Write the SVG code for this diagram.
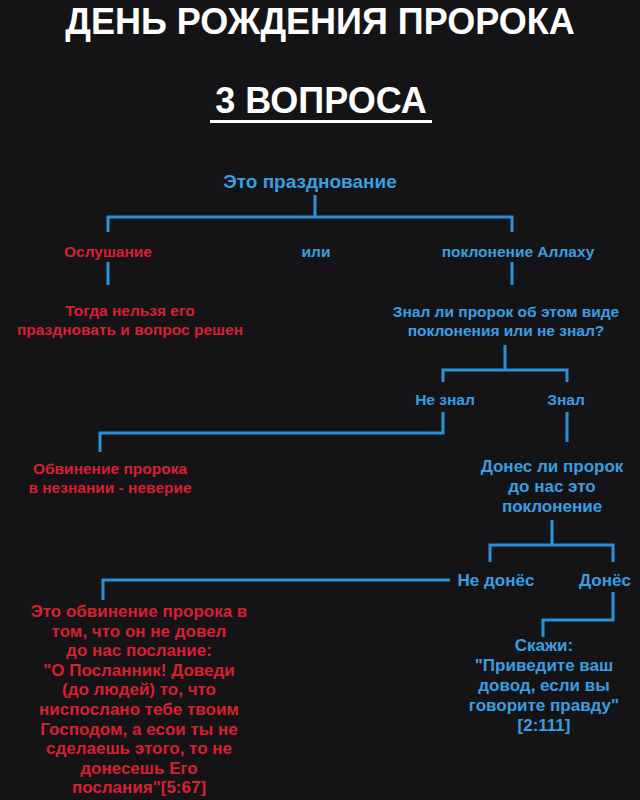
<svg xmlns="http://www.w3.org/2000/svg" width="640" height="800" viewBox="0 0 640 800">
<style>
text{font-family:"Liberation Sans",Arial,sans-serif;font-weight:bold;text-anchor:middle}
.t{fill:#fff;font-size:36px}
.b{fill:#3b9ee0;font-size:15.5px}
.r{fill:#d8202e;font-size:15.5px}
.l{font-size:17px}
.c path{stroke:#2a90d8;stroke-width:3;fill:none}
</style>
<rect width="640" height="800" fill="#141417"/>
<g id="title"><text class="t" x="320" y="34">ДЕНЬ РОЖДЕНИЯ ПРОРОКА</text>
<text class="t" x="321" y="113">3 ВОПРОСА</text>
<rect x="210" y="120" width="222" height="3" fill="#fff"/></g>
<g class="c" id="connectors">
<path d="M315 195V217M108 232V217H512V232"/>
<path d="M108 262V285M512 262V285"/>
<path d="M505 345V370M443 382V370H567V382"/>
<path d="M443 412V433H100V452M567 412V442"/>
<path d="M552 520V545M490 562V545H613V562"/>
<path d="M450 580H103V600"/>
<path d="M613 592V620H543V637"/>
</g>
<g id="n1"><text class="b" x="310" y="188" style="font-size:19px">Это празднование</text></g>
<g id="n2"><text class="r" x="108" y="257">Ослушание</text></g>
<g id="n3"><text class="b" x="316" y="257" fill="#4aa2e0">или</text></g>
<g id="n4"><text class="b" x="518" y="257">поклонение Аллаху</text></g>
<g id="n5"><text class="r" x="130" y="316">Тогда нельзя его</text><text class="r" x="130" y="335">праздновать и вопрос решен</text></g>
<g id="n6"><text class="b" x="506" y="317">Знал ли пророк об этом виде</text><text class="b" x="506" y="336">поклонения или не знал?</text></g>
<g id="n7"><text class="b" x="445" y="405">Не знал</text></g>
<g id="n8"><text class="b" x="566" y="405">Знал</text></g>
<g id="n9"><text class="r" x="110" y="474">Обвинение пророка</text><text class="r" x="110" y="493">в незнании - неверие</text></g>
<g id="n10"><text class="b l" x="552" y="472">Донес ли пророк</text><text class="b l" x="552" y="492">до нас это</text><text class="b l" x="552" y="512">поклонение</text></g>
<g id="n11"><text class="b l" x="496" y="586">Не донёс</text></g>
<g id="n12"><text class="b l" x="605" y="586">Донёс</text></g>
<g id="n13">
<text class="r l" x="139" y="617">Это обвинение пророка в</text>
<text class="r l" x="139" y="637">том, что он не довел</text>
<text class="r l" x="139" y="656">до нас послание:</text>
<text class="r l" x="139" y="676">"О Посланник! Доведи</text>
<text class="r l" x="139" y="695">(до людей) то, что</text>
<text class="r l" x="139" y="715">ниспослано тебе твоим</text>
<text class="r l" x="139" y="735">Господом, а есои ты не</text>
<text class="r l" x="139" y="754">сделаешь этого, то не</text>
<text class="r l" x="139" y="774">донесешь Его</text>
<text class="r l" x="139" y="793">послания"[5:67]</text>
</g>
<g id="n14">
<text class="b l" x="544" y="651">Скажи:</text>
<text class="b l" x="544" y="671">"Приведите ваш</text>
<text class="b l" x="544" y="691">довод, если вы</text>
<text class="b l" x="544" y="711">говорите правду"</text>
<text class="b l" x="544" y="731">[2:111]</text>
</g>
</svg>
